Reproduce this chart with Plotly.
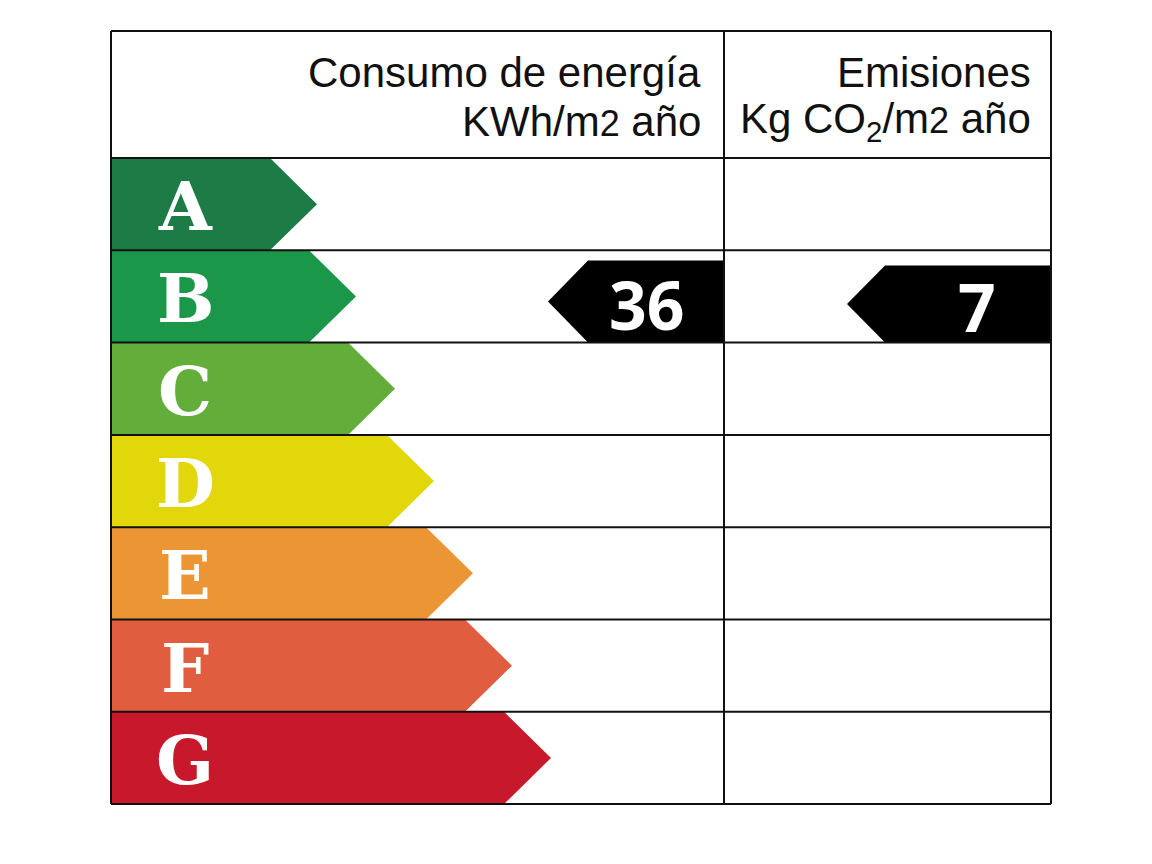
import plotly.graph_objects as go

# energy classes, from best to worst
classes = ["A", "B", "C", "D", "E", "F", "G"]
class_colors = ["#1d7b45", "#1b9749", "#63ae3b", "#e2d70b", "#ec9535", "#e05d3f", "#c8182b"]

# rating of the building
energy_value = 36
energy_class = "B"
emission_value = 7
emission_class = "B"

energy_header = ["Consumo de energía", "KWh/m<span style='font-size:36px'>2</span> año"]
emission_header = ["Emisiones", "Kg CO<sub>2</sub>/m<span style='font-size:36px'>2</span> año"]

# frame geometry (pixels of the page)
W, H = 1152, 864
PAGE_PAD = 8  # default body margin of the html page
LEFT, MID, RIGHT = 111, 724, 1051
BOX_TOP, ROWS_TOP, ROW_H = 31, 158, 92.3
BODY_A, STEP, HEAD = 270, 39, 47

fig = go.Figure()

for i, (cls, col) in enumerate(zip(classes, class_colors)):
    y0 = ROWS_TOP + i * ROW_H
    y1 = y0 + ROW_H
    body = BODY_A + STEP * i
    fig.add_trace(go.Scatter(
        x=[LEFT, body, body + HEAD, body, LEFT, LEFT],
        y=[y0, y0, (y0 + y1) / 2, y1, y1, y0],
        fill="toself", fillcolor=col, mode="lines", line=dict(width=0),
        hoverinfo="skip", showlegend=False,
    ))
    fig.add_annotation(x=185, y=(y0 + y1) / 2 + 2, text=cls, showarrow=False,
                       xanchor="center", yanchor="middle",
                       font=dict(family="DejaVu Serif", size=68, color="white", weight="bold"))


def indicator(value, cls, right, tip, body, height, pad):
    i = classes.index(cls)
    y1 = ROWS_TOP + (i + 1) * ROW_H
    y0 = y1 - height
    fig.add_trace(go.Scatter(
        x=[right, body, tip, body, right, right],
        y=[y0, y0, (y0 + y1) / 2, y1, y1, y0],
        fill="toself", fillcolor="black", mode="lines", line=dict(width=0),
        hoverinfo="skip", showlegend=False,
    ))
    fig.add_annotation(x=right - pad, y=(y0 + y1) / 2 + 2, text=str(value), showarrow=False,
                       xanchor="right", yanchor="middle",
                       font=dict(family="Open Sans", size=66, color="white", weight="bold"))


indicator(energy_value, energy_class, MID, 548, 588, 82, 38)
indicator(emission_value, emission_class, RIGHT, 847, 885, 77, 53)

# table lines
line = dict(color="#111111", width=2)
bottom = ROWS_TOP + len(classes) * ROW_H
for k in range(len(classes) + 2):
    yy = BOX_TOP if k == 0 else ROWS_TOP + (k - 1) * ROW_H
    fig.add_shape(type="line", x0=LEFT, x1=RIGHT, y0=yy, y1=yy, line=line, layer="above")
for xx in (LEFT, MID, RIGHT):
    fig.add_shape(type="line", x0=xx, x1=xx, y0=BOX_TOP, y1=bottom, line=line, layer="above")

hdr_font = dict(family="Liberation Sans", size=42, color="#111111")
for head, xr in ((energy_header, 703), (emission_header, 1033)):
    for txt, yy in zip(head, (72, 121)):
        fig.add_annotation(x=xr, y=yy, text=txt, showarrow=False,
                           xanchor="right", yanchor="middle", font=hdr_font)

fig.update_layout(
    width=W, height=H, margin=dict(l=0, r=0, t=0, b=0),
    paper_bgcolor="white", plot_bgcolor="white",
    xaxis=dict(range=[PAGE_PAD, W + PAGE_PAD], visible=False, fixedrange=True),
    yaxis=dict(range=[H + PAGE_PAD, PAGE_PAD], visible=False, fixedrange=True),
)

fig.write_html("out.html")
